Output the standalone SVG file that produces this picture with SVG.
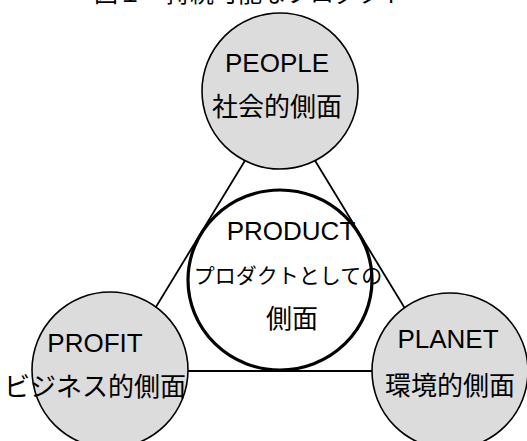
<svg xmlns="http://www.w3.org/2000/svg" width="527" height="441" viewBox="0 0 527 441">
<style>
.t{font-family:"Liberation Sans","Noto Sans CJK JP",Arial,sans-serif;font-size:26px;fill:#000;text-anchor:middle}
.j{font-family:"Noto Sans CJK JP","Liberation Sans",sans-serif;font-size:26px;fill:#000;text-anchor:middle}
.g{fill:#dcdcdc;stroke:#000;stroke-width:1.6}
.c{fill:none;stroke:#000;stroke-width:1.8}
</style>
<rect width="527" height="441" fill="#fff"/>
<text x="94" y="2" style="font-family:'Noto Sans CJK JP',sans-serif;font-size:24px">図１　持続可能なプロダクト</text>
<g id="connectors">
<polygon class="c" points="280,103 117,371 443,371"/>
</g>
<g id="people">
<circle class="g" cx="280" cy="91" r="78"/>
<text class="t" x="277" y="72">PEOPLE</text>
<text class="j" x="277" y="116">社会的側面</text>
</g>
<g id="profit">
<circle class="g" cx="110" cy="370" r="78"/>
<text class="t" x="95" y="352">PROFIT</text>
<text class="j" x="95" y="396">ビジネス的側面</text>
</g>
<g id="planet">
<circle class="g" cx="450" cy="371" r="78"/>
<text class="t" x="448" y="348">PLANET</text>
<text class="j" x="450" y="395">環境的側面</text>
</g>
<g id="product">
<ellipse cx="280" cy="280" rx="92" ry="90" fill="none" stroke="#000" stroke-width="3.2"/>
<text class="t" x="291" y="240">PRODUCT</text>
<text class="j" x="288" y="283" style="font-size:21px">プロダクトとしての</text>
<text class="j" x="292" y="328">側面</text>
</g>
</svg>
